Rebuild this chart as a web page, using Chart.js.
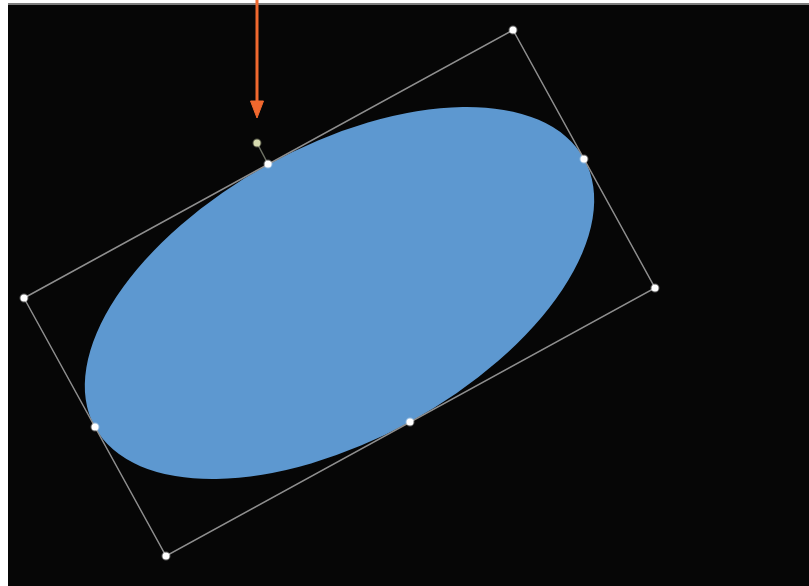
<!DOCTYPE html>
<html>
<head>
<meta charset="utf-8">
<script src="https://cdn.jsdelivr.net/npm/chart.js@4.4.0/dist/chart.umd.min.js"></script>
<style>
body { margin: 0; background: #fff; }
#frame { position: absolute; left: 8px; top: 3px; width: 801px; height: 581px; background: #060606; border-top: 2px solid #7d7d7d; }
#wrap { position: absolute; left: 0; top: 0; width: 809px; height: 586px; }
</style>
</head>
<body>
<div id="frame"></div>
<div id="wrap"><canvas id="shape-chart"></canvas></div>
<script>
// selection box corners (screen units, closed)
const boxX = [24, 513, 655, 166, 24];
const boxY = [298, 30, 288, 556, 298];

// resize handles: corners + side midpoints
const handleX = [24, 268, 513, 584, 655, 410, 166, 95];
const handleY = [298, 164, 30, 159, 288, 422, 556, 427];

// rotate handle and its stem
const rotX = [257, 268];
const rotY = [143, 164];

// orange pointer arrow
const arrowX = [257, 257];
const arrowY = [0, 104];
const headX = [250.5, 263.5, 257, 250.5];
const headY = [101, 101, 118, 101];

// the oval itself: centre, radii, tilt in degrees
const ovalCenter = [339.5, 293];
const ovalRadii = [279, 147];
const ovalAngle = -28.7;

function toPoints(xs, ys) {
    return xs.map((x, i) => ({ x: x, y: ys[i] }));
}

// draws the oval under the datasets, positioned by the chart scales
const ovalPlugin = {
    id: 'oval',
    beforeDatasetsDraw(chart) {
        const ctx = chart.ctx;
        const x = chart.scales.x;
        const y = chart.scales.y;
        const cx = x.getPixelForValue(ovalCenter[0]);
        const cy = y.getPixelForValue(ovalCenter[1]);
        const rx = Math.abs(x.getPixelForValue(ovalRadii[0]) - x.getPixelForValue(0));
        const ry = Math.abs(y.getPixelForValue(ovalRadii[1]) - y.getPixelForValue(0));
        ctx.save();
        ctx.beginPath();
        ctx.ellipse(cx, cy, rx, ry, ovalAngle * Math.PI / 180, 0, Math.PI * 2);
        ctx.fillStyle = '#5d98d0';
        ctx.fill();
        ctx.restore();
    }
};

const ctx = document.getElementById('shape-chart');

new Chart(ctx, {
    type: 'scatter',
    data: {
        datasets: [
            {
                label: 'arrow head',
                data: toPoints(headX, headY),
                showLine: true,
                borderColor: '#f0682e',
                backgroundColor: '#f0682e',
                borderWidth: 1,
                fill: 'shape',
                pointRadius: 0,
                order: 0
            },
            {
                label: 'arrow',
                data: toPoints(arrowX, arrowY),
                showLine: true,
                borderColor: '#f0682e',
                borderWidth: 3,
                pointRadius: 0,
                order: 1
            },
            {
                label: 'handles',
                data: toPoints(handleX, handleY),
                showLine: false,
                pointRadius: 3.5,
                pointBackgroundColor: '#ffffff',
                pointBorderColor: 'rgba(255,255,255,0.35)',
                pointBorderWidth: 2,
                order: 2
            },
            {
                label: 'rotate',
                data: [{ x: rotX[0], y: rotY[0] }],
                showLine: false,
                pointRadius: 3.5,
                pointBackgroundColor: '#d6dbb0',
                pointBorderColor: 'rgba(214,219,176,0.35)',
                pointBorderWidth: 2,
                order: 3
            },
            {
                label: 'stem',
                data: toPoints(rotX, rotY),
                showLine: true,
                borderColor: '#6f7366',
                borderWidth: 1.5,
                pointRadius: 0,
                order: 4
            },
            {
                label: 'box',
                data: toPoints(boxX, boxY),
                showLine: true,
                borderColor: '#8e8e8e',
                borderWidth: 1.5,
                pointRadius: 0,
                order: 5
            }
        ]
    },
    options: {
        responsive: true,
        maintainAspectRatio: false,
        animation: false,
        layout: { padding: 0, autoPadding: false },
        plugins: {
            legend: { display: false },
            tooltip: { enabled: false }
        },
        scales: {
            x: { type: 'linear', min: 0, max: 809, display: false },
            y: { type: 'linear', min: 0, max: 586, reverse: true, display: false }
        }
    },
    plugins: [ovalPlugin]
});
</script>
</body>
</html>
